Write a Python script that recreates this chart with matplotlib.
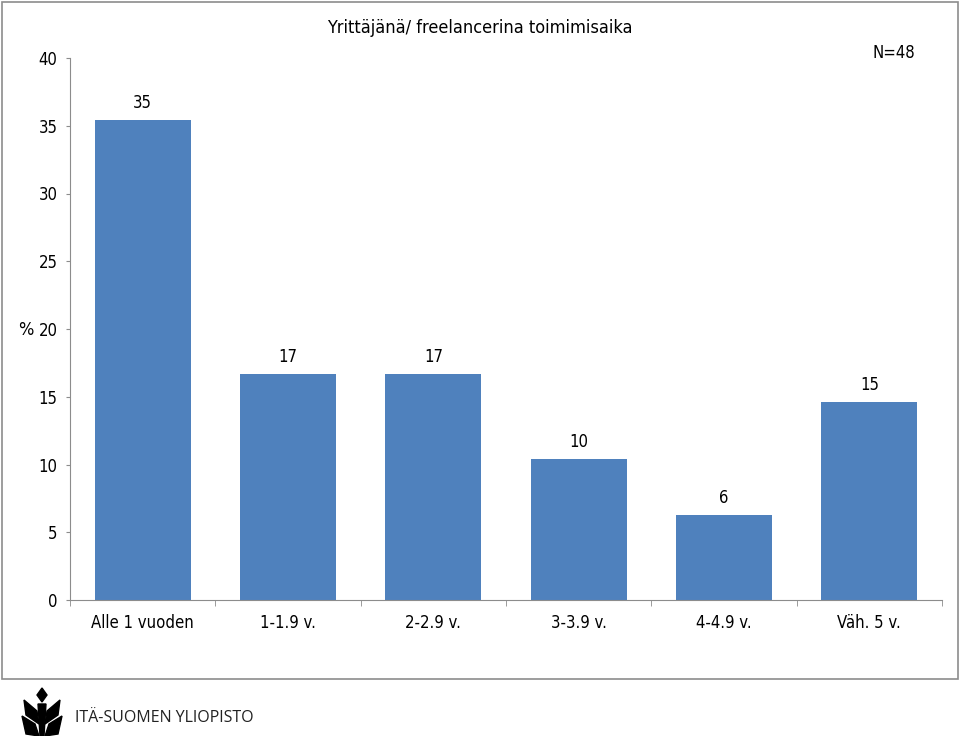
import matplotlib
matplotlib.use("Agg")
import matplotlib.pyplot as plt
from matplotlib.patches import Rectangle, Polygon

categories = ["Alle 1 vuoden", "1-1.9 v.", "2-2.9 v.", "3-3.9 v.", "4-4.9 v.", "Väh. 5 v."]
values = [35.4, 16.7, 16.7, 10.4, 6.25, 14.6]
labels = ["35", "17", "17", "10", "6", "15"]

plt.rcParams['font.family'] = ['Liberation Sans Narrow', 'DejaVu Sans']
plt.rcParams['font.stretch'] = 'condensed'

W, H = 960, 736
fig = plt.figure(figsize=(W / 100, H / 100), dpi=100)

def fx(px):
    return px / W

def fy(py):
    return 1 - py / H

# chart border
fig.patches.append(Rectangle((fx(2), fy(679)), fx(956), 677 / H, transform=fig.transFigure,
                             fill=False, edgecolor='#8c8c8c', lw=1.2))

ax = fig.add_axes([fx(70), fy(600), fx(872), 542 / H])
x = range(len(categories))
ax.bar(x, values, width=0.66, color='#4f81bd', zorder=2)
for i, (v, lab) in enumerate(zip(values, labels)):
    ax.text(i, v + 0.6, lab, ha='center', va='bottom', fontsize=12)

ax.set_xlim(-0.5, len(categories) - 0.5)
ax.set_ylim(0, 40)
ax.set_yticks(range(0, 41, 5))
ax.set_xticks(list(x))
ax.set_xticklabels(categories, fontsize=12)
ax.set_xticks([i - 0.5 for i in range(len(categories) + 1)], minor=True)
ax.tick_params(axis='x', which='major', length=0, pad=10)
ax.tick_params(axis='x', which='minor', length=4, color='#8c8c8c')
ax.tick_params(axis='y', length=3, color='#8c8c8c', labelsize=12, pad=6)
for s in ['top', 'right']:
    ax.spines[s].set_visible(False)
for s in ['left', 'bottom']:
    ax.spines[s].set_color('#8c8c8c')

fig.text(fx(480), fy(28), "Yrittäjänä/ freelancerina toimimisaika", ha='center', va='center',
         fontsize=13)
fig.text(fx(894), fy(53), "N=48", ha='center', va='center', fontsize=12)
fig.text(fx(26), fy(330), "%", ha='center', va='center', fontsize=13)

# logo
logo = [
    [(42, 688), (47, 695), (42, 702), (37, 695)],
    [(24, 700), (37, 711), (39, 724), (26, 715)],
    [(60, 700), (47, 711), (45, 724), (58, 715)],
    [(22, 716), (35, 724), (39, 736), (26, 734)],
    [(62, 716), (49, 724), (45, 736), (58, 734)],
    [(38, 704), (46, 704), (44, 736), (40, 736)],
]
for pts in logo:
    fig.patches.append(Polygon([(fx(a), fy(b)) for a, b in pts], closed=True,
                               transform=fig.transFigure, color='black'))
fig.text(fx(75), fy(718), "ITÄ-SUOMEN YLIOPISTO", ha='left', va='center', fontsize=11.5,
         family=['Open Sans', 'DejaVu Sans'], stretch='normal', color='#222222')

fig.savefig("out.png", dpi=100)
